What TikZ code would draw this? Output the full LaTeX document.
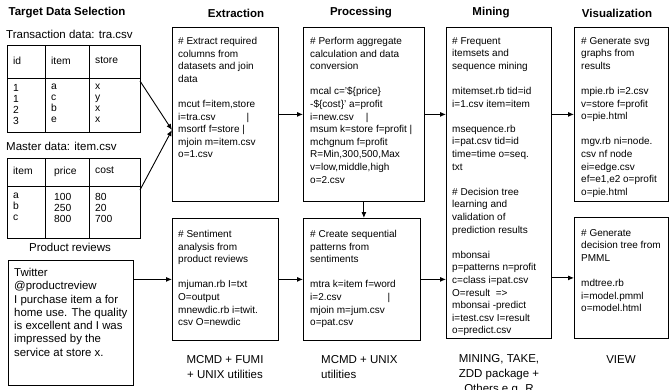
\documentclass[tikz,border=0pt]{standalone}
\usepackage{fontspec}
\setmainfont{Liberation Sans}
\usetikzlibrary{arrows.meta}
\begin{document}
\begin{tikzpicture}[x=1pt,y=-1pt,
  box/.style={draw, line width=0.8pt, anchor=north west, inner sep=0pt},
  txt/.style={anchor=north west, align=left, inner sep=0pt, font=\fontsize{10}{12.6}\selectfont},
  tbl/.style={anchor=north west, align=left, inner sep=0pt, font=\fontsize{10.3}{11}\selectfont},
  hdr/.style={inner sep=0pt, font=\fontsize{11.5}{13}\selectfont\bfseries},
  lbl/.style={inner sep=0pt, font=\fontsize{11.5}{15}\selectfont},
  arr/.style={-{Latex[length=6pt,width=5pt]}, line width=0.9pt},
  tline/.style={line width=0.8pt}
]
\useasboundingbox (0,0) rectangle (669,389);
% headers
\node[hdr] (h1) at (67,13) {Target Data Selection};
\node[hdr] (h2) at (236,13) {Extraction};
\node[hdr] (h3) at (361,13) {Processing};
\node[hdr] (h4) at (491,13) {Mining};
\node[hdr] (h5) at (617,13) {Visualization};

% left column
\node[lbl, anchor=west] (l1) at (6,34) {Transaction data: tra.csv};
\node[box, minimum width=133pt, minimum height=87pt] (t1) at (7,45) {};
\draw[tline] (45,45) -- (45,132);
\draw[tline] (89,45) -- (89,132);
\draw[tline] (7,78) -- (140,78);
\node[tbl] (t1a) at (13,57) {id};
\node[tbl] (t1b) at (51,57) {item};
\node[tbl] (t1c) at (95,57) {store};
\node[tbl] (t1d) at (13,84) {1\\1\\2\\3};
\node[tbl] (t1e) at (51,84) {a\\c\\b\\e};
\node[tbl] (t1f) at (95,84) {x\\y\\x\\x};

\node[lbl, anchor=west] (l2) at (6,146) {Master data: item.csv};
\node[box, minimum width=133pt, minimum height=80pt] (t2) at (7,158) {};
\draw[tline] (45,158) -- (45,238);
\draw[tline] (89,158) -- (89,238);
\draw[tline] (7,186) -- (140,186);
\node[tbl] (t2a) at (13,167) {item};
\node[tbl] (t2b) at (54,167) {price};
\node[tbl] (t2c) at (95,167) {cost};
\node[tbl] (t2d) at (13,193) {a\\b\\c};
\node[tbl] (t2e) at (54,193) {100\\250\\800};
\node[tbl] (t2f) at (95,193) {80\\20\\700};

\node[lbl] (l3) at (70,247) {Product reviews};
\node[box, minimum width=125pt, minimum height=125pt] (tw) at (8,260) {};
\node[anchor=north west, align=left, inner sep=0pt, font=\fontsize{11.4}{13.3}\selectfont] (twt) at (14,268)
 {Twitter\\@productreview\\I purchase item a for\\home use. The quality\\is excellent and I was\\impressed by the\\service at store x.};

% extraction
\node[box, minimum width=106pt, minimum height=174pt] (ext1) at (172,27) {};
\node[txt] (ext1t) at ([shift={(6,10)}]ext1.north west)
 {\# Extract required\\columns from\\datasets and join\\data\\[12.6pt]mcut f=item,store\\i=tra.csv\hspace{31pt}|\\msortf f=store |\\mjoin m=item.csv\\o=1.csv};
\node[box, minimum width=106pt, minimum height=122pt] (ext2) at (172,218) {};
\node[txt] (ext2t) at ([shift={(6,12)}]ext2.north west)
 {\# Sentiment\\analysis from\\product reviews\\[12.6pt]mjuman.rb I=txt\\O=output\\mnewdic.rb i=twit.\\csv O=newdic};

% processing
\node[box, minimum width=121pt, minimum height=174pt] (proc1) at (303,27) {};
\node[txt] (proc1t) at ([shift={(7,10)}]proc1.north west)
 {\# Perform aggregate\\calculation and data\\conversion\\[12.6pt]mcal c='\$\{price\}\\-\$\{cost\}’ a=profit\\i=new.csv\hspace{12pt}|\\msum k=store f=profit |\\mchgnum f=profit\\R=Min,300,500,Max\\v=low,middle,high\\o=2.csv};
\node[box, minimum width=117pt, minimum height=122pt] (proc2) at (303,218) {};
\node[txt] (proc2t) at ([shift={(7,12)}]proc2.north west)
 {\# Create sequential\\patterns from\\sentiments\\[12.6pt]mtra k=item f=word\\i=2.csv\hspace{46pt}|\\mjoin m=jum.csv\\o=pat.csv};

% mining
\node[box, minimum width=105pt, minimum height=311pt] (mine) at (446,27) {};
\node[txt] (minet) at ([shift={(6,10)}]mine.north west)
 {\# Frequent\\itemsets and\\sequence mining\\[12.6pt]mitemset.rb tid=id\\i=1.csv item=item\\[12.6pt]msequence.rb\\i=pat.csv tid=id\\time=time o=seq.\\txt\\[12.6pt]\# Decision tree\\learning and\\validation of\\prediction results\\[12.6pt]mbonsai\\p=patterns n=profit\\c=class i=pat.csv\\O=result\ \ =>\\mbonsai -predict\\i=test.csv I=result\\o=predict.csv};

% visualization
\node[box, minimum width=94pt, minimum height=174pt] (vis1) at (574,27) {};
\node[txt] (vis1t) at ([shift={(7,10)}]vis1.north west)
 {\# Generate svg\\graphs from\\results\\[12.6pt]mpie.rb i=2.csv\\v=store f=profit\\o=pie.html\\[12.6pt]mgv.rb ni=node.\\csv nf node\\ei=edge.csv\\ef=e1,e2 o=profit\\o=pie.html};
\node[box, minimum width=94pt, minimum height=121pt] (vis2) at (574,217) {};
\node[txt] (vis2t) at ([shift={(7,12)}]vis2.north west)
 {\# Generate\\decision tree from\\PMML\\[12.6pt]mdtree.rb\\i=model.pmml\\o=model.html};

% bottom labels
\node[lbl, align=center] (b1) at (225,367) {MCMD + FUMI\\+ UNIX utilities};
\node[lbl, align=left, anchor=west] (b2) at (321,367) {MCMD + UNIX\\utilities};
\node[lbl, align=center] (b3) at (499,375) {MINING, TAKE,\\ZDD package +\\Others e.g. R};
\node[lbl] (b4) at (621,360) {VIEW};

% connectors
\coordinate (c1) at (140,81);
\coordinate (c2) at (140,190);
\coordinate (cj) at (172,130);
\draw[arr] (c1) -- (cj);
\draw[arr] (c2) -- (cj);
\draw[arr] (tw.east |- ext2.west) -- (ext2.west);
\draw[arr] (ext1.east) -- (proc1.west);
\draw[arr] (ext2.east) -- (ext2.east -| proc2.west);
\draw[arr] (proc1.east) -- (proc1.east -| mine.west);
\draw[arr] (proc2.east) -- (proc2.east -| mine.west);
\draw[arr] (mine.east |- vis1.west) -- (vis1.west);
\draw[arr] (mine.east |- vis2.west) -- (vis2.west);
\draw[arr] (proc1.south) -- (proc1.south |- proc2.north);
\end{tikzpicture}
\end{document}
